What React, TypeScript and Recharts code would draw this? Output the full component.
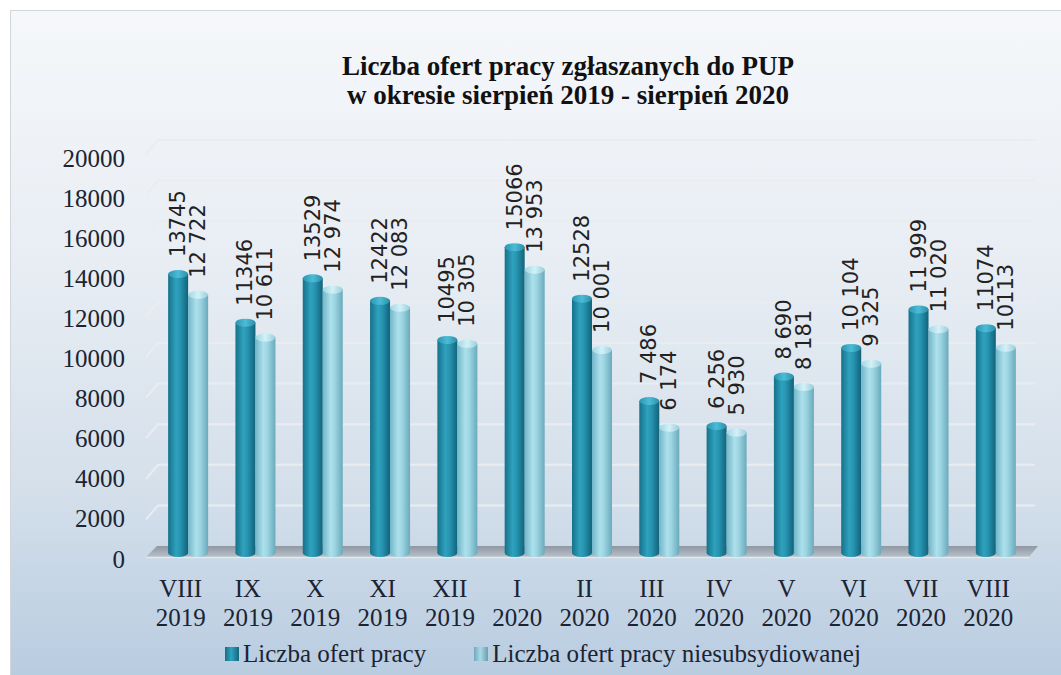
import { Bar, BarChart, CartesianGrid, LabelList, XAxis, YAxis } from 'recharts';

const months = ['VIII', 'IX', 'X', 'XI', 'XII', 'I', 'II', 'III', 'IV', 'V', 'VI', 'VII', 'VIII'];
const years = ['2019', '2019', '2019', '2019', '2019', '2020', '2020', '2020', '2020', '2020', '2020', '2020', '2020'];

const offers = [13745, 11346, 13529, 12422, 10495, 15066, 12528, 7486, 6256, 8690, 10104, 11999, 11074];
const unsubsidized = [12722, 10611, 12974, 12083, 10305, 13953, 10001, 6174, 5930, 8181, 9325, 11020, 10113];

// label text as printed on the chart (spacing differs between labels)
const offersLabels = ['13745', '11346', '13529', '12422', '10495', '15066', '12528', '7 486', '6 256', '8 690', '10 104', '11 999', '11074'];
const unsubsidizedLabels = ['12 722', '10 611', '12 974', '12 083', '10 305', '13 953', '10 001', '6 174', '5 930', '8 181', '9 325', '11 020', '10113'];

const yTicks = [0, 2000, 4000, 6000, 8000, 10000, 12000, 14000, 16000, 18000, 20000];

const seriesNames = ['Liczba ofert pracy', 'Liczba ofert pracy niesubsydiowanej'];

const data = months.map((m, i) => ({
  key: `${m} ${years[i]}`,
  offers: offers[i],
  unsubsidized: unsubsidized[i],
  offersLabel: offersLabels[i],
  unsubsidizedLabel: unsubsidizedLabels[i],
}));

const W = 1061;
const H = 675;
const MARGIN = { top: 147, right: 32, bottom: 62, left: 94 };
const PLOT_BOTTOM = H - MARGIN.bottom - 60;

const SERIF = '"Liberation Serif", "DejaVu Serif", serif';
const TEXT = '#1b2433';

const Cylinder = (props: any) => {
  const { x, y, width, height, kind } = props;
  if (width == null || height == null) return null;
  const ry = 4;
  return (
    <g>
      <rect x={x} y={y} width={width} height={height} fill={`url(#${kind}-side)`} />
      <ellipse cx={x + width / 2} cy={y + height} rx={width / 2} ry={ry} fill={`url(#${kind}-side)`} />
      <ellipse cx={x + width / 2} cy={y} rx={width / 2} ry={ry} fill={`url(#${kind}-cap)`} />
    </g>
  );
};

const ValueLabel = (props: any) => {
  const { x, y, width, value } = props;
  return (
    <text
      transform={`translate(${x + width / 2}, ${y - 17}) rotate(-90)`}
      textAnchor="start"
      dominantBaseline="central"
      fontFamily='"DejaVu Sans", sans-serif'
      fontSize={21}
      fill="#222"
    >
      {value}
    </text>
  );
};

const YTick = (props: any) => {
  const { x, y, payload } = props;
  return (
    <text x={x - 29} y={y + 6 + (payload.value / 20000) * 5} textAnchor="end" dominantBaseline="central" fontFamily={SERIF} fontSize={25} fill={TEXT}>
      {payload.value}
    </text>
  );
};

const XTick = (props: any) => {
  const { x, y, index } = props;
  return (
    <g>
      <text x={x - 7} y={y + 35} textAnchor="middle" dominantBaseline="central" fontFamily={SERIF} fontSize={25} fill={TEXT}>
        {months[index]}
      </text>
      <text x={x - 7} y={y + 64} textAnchor="middle" dominantBaseline="central" fontFamily={SERIF} fontSize={25} fill={TEXT}>
        {years[index]}
      </text>
    </g>
  );
};

const GridLine = (props: any) => {
  const { x1, x2, y1 } = props;
  const y = y1;
  if (Math.abs(y - PLOT_BOTTOM) < 1) {
    // floor of the 3D plot
    return (
      <g>
        <polygon
          points={`${x1 - 8},${y + 4} ${x1 + 3},${y - 7} ${x2 + 9},${y - 7} ${x2},${y + 4}`}
          fill="url(#floor)"
        />
        <line x1={x1 - 8} y1={y + 4.5} x2={x2} y2={y + 4.5} stroke="#e4e9ef" strokeWidth={1.5} />
      </g>
    );
  }
  return (
    <path
      d={`M${x1 - 8},${y + 7} L${x1 + 4},${y - 7} L${x2 + 6},${y - 7}`}
      fill="none"
      stroke="#e9edf2"
      strokeWidth={2}
    />
  );
};

const LegendMark = ({ kind }: { kind: string }) => (
  <span
    style={{
      display: 'inline-block',
      width: 14,
      height: 14,
      marginRight: 4,
      background:
        kind === 'dark'
          ? 'linear-gradient(90deg, #176f87, #2ea3bf 45%, #15657c)'
          : 'linear-gradient(90deg, #6fa9ba, #a9d9e6 45%, #6a9fb0)',
    }}
  />
);

export default function App() {
  return (
    <div style={{ position: 'absolute', left: 0, top: 0, width: W, height: H, overflow: 'hidden', background: '#fff' }}>
      <div
        style={{
          position: 'absolute',
          left: 10,
          top: 10,
          width: W,
          height: H,
          border: '1px solid #d2d6db',
          background: 'linear-gradient(180deg, #f5f7fa 0%, #e9eef4 35%, #d5e0eb 70%, #b7cbe0 100%)',
        }}
      />
      <div
        style={{
          position: 'absolute',
          left: 268,
          top: 52,
          width: 600,
          textAlign: 'center',
          fontFamily: SERIF,
          fontWeight: 'bold',
          fontSize: 27,
          lineHeight: '29px',
          color: '#111',
        }}
      >
        Liczba ofert pracy zgłaszanych do PUP
        <br />
        w okresie sierpień 2019 - sierpień 2020
      </div>
      <div style={{ position: 'absolute', left: 0, top: 0 }}>
        <BarChart width={W} height={H} data={data} margin={MARGIN} barCategoryGap="21%" barGap={0}>
          <defs>
            <linearGradient id="dark-side" x1="0" y1="0" x2="1" y2="0">
              <stop offset="0%" stopColor="#16718a" />
              <stop offset="40%" stopColor="#2fa2be" />
              <stop offset="60%" stopColor="#2795b1" />
              <stop offset="100%" stopColor="#12627a" />
            </linearGradient>
            <linearGradient id="dark-cap" x1="0" y1="0" x2="1" y2="0">
              <stop offset="0%" stopColor="#2a95b0" />
              <stop offset="50%" stopColor="#4cbcd6" />
              <stop offset="100%" stopColor="#2a8ea8" />
            </linearGradient>
            <linearGradient id="light-side" x1="0" y1="0" x2="1" y2="0">
              <stop offset="0%" stopColor="#71b6c9" />
              <stop offset="40%" stopColor="#ade0eb" />
              <stop offset="60%" stopColor="#9dd5e2" />
              <stop offset="100%" stopColor="#6aaabb" />
            </linearGradient>
            <linearGradient id="light-cap" x1="0" y1="0" x2="1" y2="0">
              <stop offset="0%" stopColor="#9fd6e3" />
              <stop offset="50%" stopColor="#d3f1f7" />
              <stop offset="100%" stopColor="#98cddb" />
            </linearGradient>
            <linearGradient id="floor" x1="0" y1="0" x2="0" y2="1">
              <stop offset="0%" stopColor="#8f98a3" />
              <stop offset="100%" stopColor="#b8c0c9" />
            </linearGradient>
          </defs>
          <CartesianGrid vertical={false} horizontal={(p: any) => <GridLine key={p.key} {...p} />} />
          <XAxis dataKey="key" axisLine={false} tickLine={false} tickSize={0} tickMargin={0} height={60} interval={0} tick={<XTick />} />
          <YAxis
            domain={[0, 20000]}
            ticks={yTicks}
            axisLine={false}
            tickLine={false}
            tickSize={0}
            tickMargin={0}
            width={60}
            tick={<YTick />}
          />
          <Bar dataKey="offers" name={seriesNames[0]} isAnimationActive={false} shape={(p: any) => <Cylinder {...p} kind="dark" />}>
            <LabelList dataKey="offersLabel" content={<ValueLabel />} />
          </Bar>
          <Bar dataKey="unsubsidized" name={seriesNames[1]} isAnimationActive={false} shape={(p: any) => <Cylinder {...p} kind="light" />}>
            <LabelList dataKey="unsubsidizedLabel" content={<ValueLabel />} />
          </Bar>
        </BarChart>
      </div>
      <div
        style={{
          position: 'absolute',
          left: 225,
          top: 640,
          display: 'flex',
          alignItems: 'center',
          fontFamily: SERIF,
          fontSize: 25,
          color: TEXT,
          whiteSpace: 'nowrap',
        }}
      >
        <LegendMark kind="dark" />
        <span style={{ marginRight: 48 }}>{seriesNames[0]}</span>
        <LegendMark kind="light" />
        <span>{seriesNames[1]}</span>
      </div>
    </div>
  );
}
